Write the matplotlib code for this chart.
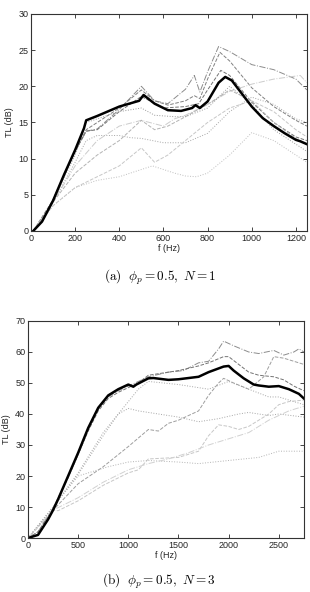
# -*- coding: utf-8 -*-
"""
Transmission loss curves, two panels (N=1 and N=3), MATLAB-style look.
"""

import numpy as np
import matplotlib
matplotlib.use('Agg')
import matplotlib.pyplot as plt

plt.rcParams['font.family'] = ['Liberation Sans', 'DejaVu Sans']
plt.rcParams['mathtext.fontset'] = 'cm'

# ---------------- panel (a): phi_p = 0.5, N = 1 ----------------
fa_black = [10, 50, 100, 150, 200, 240, 250, 300, 400, 490, 510, 560, 620, 680, 730,
            745, 765, 800, 850, 880, 910, 960, 1000, 1050, 1100, 1150, 1200, 1220, 1235, 1250]
tla_black = [0, 1.3, 4.2, 7.8, 11.2, 14.2, 15.3, 15.9, 17.2, 18.0, 18.8, 17.6, 16.7, 16.6, 17.0,
             17.4, 17.0, 17.9, 20.5, 21.3, 20.8, 18.8, 17.2, 15.6, 14.5, 13.5, 12.6, 12.4, 12.2, 12.0]

fa_g1 = [10, 50, 100, 150, 200, 250, 300, 400, 500, 560, 620, 700, 740, 765, 800, 850, 900, 1000, 1100, 1200, 1250]
tla_g1 = [0, 1.4, 4.3, 7.8, 11.0, 13.8, 14.1, 16.8, 20.0, 18.0, 17.6, 19.6, 21.5, 19.2, 22.0, 25.5, 24.8, 23.0, 22.3, 21.0, 19.5]

fa_g2 = [10, 50, 100, 150, 200, 250, 300, 400, 500, 560, 620, 700, 740, 765, 800, 856, 900, 1000, 1100, 1200, 1250]
tla_g2 = [0, 1.4, 4.3, 7.8, 11.0, 14.0, 15.0, 17.0, 19.5, 18.0, 17.4, 18.0, 18.7, 18.3, 21.0, 24.7, 23.5, 19.8, 17.2, 15.3, 14.5]

fa_g3 = [10, 100, 200, 250, 300, 400, 500, 600, 700, 760, 800, 860, 900, 1000, 1100, 1200, 1250]
tla_g3 = [0, 4.3, 11.0, 13.8, 14.0, 16.5, 18.6, 17.0, 17.2, 17.6, 19.5, 22.2, 21.5, 17.8, 15.0, 13.0, 12.5]

fa_g4 = [10, 100, 200, 300, 400, 500, 600, 650, 700, 800, 900, 1000, 1100, 1220, 1250]
tla_g4 = [0, 4.0, 9.0, 12.5, 14.5, 15.3, 14.5, 15.5, 16.0, 17.5, 19.3, 20.3, 21.0, 21.5, 20.5]

fa_g5 = [10, 100, 200, 250, 300, 400, 450, 500, 600, 700, 800, 900, 1000, 1100, 1200, 1250]
tla_g5 = [0, 4.0, 9.5, 12.5, 13.2, 13.2, 12.9, 12.8, 12.2, 12.2, 13.5, 16.5, 18.5, 17.5, 15.5, 15.0]

fa_g6 = [10, 100, 200, 300, 400, 500, 550, 600, 650, 700, 750, 800, 900, 1000, 1100, 1200, 1250]
tla_g6 = [0, 3.5, 6.0, 7.0, 7.5, 8.5, 9.0, 8.5, 8.0, 7.6, 7.5, 8.0, 10.5, 13.6, 12.5, 10.5, 9.5]

fa_g7 = [10, 100, 200, 300, 400, 500, 560, 620, 700, 760, 800, 900, 1000, 1100, 1200, 1250]
tla_g7 = [0, 3.5, 6.0, 7.5, 9.0, 11.5, 9.5, 10.5, 12.5, 14.0, 15.0, 17.0, 18.0, 16.5, 14.0, 13.0]

fa_g8 = [10, 100, 200, 300, 400, 500, 560, 620, 700, 740, 800, 900, 1000, 1100, 1200, 1250]
tla_g8 = [0, 4.0, 8.0, 10.5, 12.5, 15.3, 14.0, 14.5, 15.8, 16.5, 17.5, 19.5, 18.0, 15.0, 12.8, 12.0]

fa_g9 = [10, 100, 200, 250, 300, 400, 500, 560, 650, 700, 800, 900, 1000, 1100, 1200, 1250]
tla_g9 = [0, 4.2, 10.5, 15.0, 15.5, 16.5, 17.0, 16.0, 15.8, 15.8, 17.0, 20.0, 17.5, 14.0, 12.0, 11.0]

# ---------------- panel (b): phi_p = 0.5, N = 3 ----------------
fb_black = [0, 100, 200, 250, 300, 400, 500, 600, 700, 800, 900, 1000, 1050, 1080, 1200, 1250,
            1400, 1500, 1700, 1800, 1950, 2000, 2050, 2150, 2250, 2300, 2400, 2500, 2600, 2700, 2750]
tlb_black = [0, 1.0, 6.0, 9.0, 12.5, 20.0, 27.5, 35.5, 42.0, 46.0, 48.0, 49.5, 48.8, 49.5, 51.5, 51.6,
             51.0, 51.2, 52.0, 53.5, 55.3, 55.5, 54.0, 51.5, 49.5, 49.2, 48.8, 49.0, 48.0, 46.5, 45.0]

fb_g1 = [0, 100, 250, 400, 500, 600, 700, 800, 900, 1000, 1200, 1400, 1550, 1700, 1800, 1900, 1950,
         2050, 2200, 2300, 2450, 2550, 2650, 2700, 2750]
tlb_g1 = [0, 2.0, 9.5, 19.5, 27.0, 35.0, 41.5, 45.5, 47.5, 49.0, 52.0, 53.5, 54.0, 56.5, 57.0, 61.0, 63.5,
          62.0, 60.0, 59.5, 60.5, 59.0, 60.0, 61.0, 60.0]

fb_g2 = [0, 100, 250, 400, 500, 600, 700, 800, 900, 1000, 1100, 1200, 1300, 1500, 1700, 1800, 1950,
         2000, 2100, 2200, 2300, 2450, 2550, 2650, 2750]
tlb_g2 = [0, 2.0, 9.5, 19.5, 27.0, 34.5, 41.0, 45.0, 47.0, 48.5, 50.0, 52.5, 53.0, 54.0, 55.5, 56.5, 58.5,
          58.5, 56.0, 53.5, 52.5, 52.0, 51.0, 49.0, 47.5]

fb_g3 = [0, 250, 500, 750, 900, 1000, 1100, 1200, 1500, 1800, 2000, 2200, 2400, 2500, 2600, 2750]
tlb_g3 = [0, 10.0, 20.5, 33.0, 40.0, 44.0, 48.0, 50.5, 49.5, 48.0, 50.5, 48.0, 45.5, 45.5, 44.5, 43.0]

fb_g4 = [0, 250, 500, 750, 900, 1000, 1100, 1300, 1500, 1700, 1900, 2100, 2200, 2400, 2500, 2750]
tlb_g4 = [0, 10.0, 21.0, 34.0, 40.0, 41.8, 41.0, 40.0, 39.0, 37.5, 38.5, 40.0, 40.5, 39.5, 40.0, 39.0]

fb_g5 = [0, 250, 500, 750, 1000, 1200, 1300, 1400, 1500, 1700, 1800, 1900, 1950, 2050, 2200, 2350,
         2450, 2550, 2650, 2750]
tlb_g5 = [0, 9.0, 17.5, 23.0, 29.5, 35.0, 34.5, 37.0, 38.0, 41.0, 46.0, 50.0, 51.5, 50.0, 48.0, 52.0,
          58.5, 58.0, 57.0, 56.0]

fb_g6 = [0, 250, 300, 500, 750, 1000, 1100, 1200, 1500, 1700, 1800, 1900, 2000, 2100, 2200, 2400,
         2500, 2600, 2750]
tlb_g6 = [0, 9.0, 8.8, 12.0, 17.0, 21.0, 22.0, 25.5, 26.0, 28.0, 33.0, 36.5, 36.0, 35.0, 36.0, 40.0,
          43.0, 44.0, 44.5]

fb_g7 = [0, 250, 500, 800, 1000, 1200, 1500, 1700, 2000, 2300, 2500, 2750]
tlb_g7 = [0, 10.0, 20.0, 23.0, 24.5, 25.0, 24.5, 24.0, 25.0, 26.0, 28.0, 28.0]

fb_g8 = [0, 250, 500, 750, 1000, 1200, 1400, 1600, 1800, 2000, 2200, 2400, 2600, 2750]
tlb_g8 = [0, 9.0, 13.0, 18.0, 22.0, 24.0, 25.5, 27.5, 30.0, 32.0, 34.0, 38.0, 41.0, 42.5]

# (x, y, linestyle, gray level) for the thin curves
grey_a = [
    (fa_g1, tla_g1, '-.', '0.55'),
    (fa_g2, tla_g2, '--', '0.50'),
    (fa_g3, tla_g3, '--', '0.45'),
    (fa_g4, tla_g4, '-.', '0.80'),
    (fa_g5, tla_g5, ':', '0.65'),
    (fa_g6, tla_g6, ':', '0.75'),
    (fa_g7, tla_g7, '--', '0.78'),
    (fa_g8, tla_g8, '--', '0.70'),
    (fa_g9, tla_g9, ':', '0.60'),
]
grey_b = [
    (fb_g1, tlb_g1, '-.', '0.55'),
    (fb_g2, tlb_g2, '--', '0.45'),
    (fb_g3, tlb_g3, ':', '0.65'),
    (fb_g4, tlb_g4, ':', '0.65'),
    (fb_g5, tlb_g5, '--', '0.62'),
    (fb_g6, tlb_g6, '--', '0.78'),
    (fb_g7, tlb_g7, ':', '0.70'),
    (fb_g8, tlb_g8, '-.', '0.82'),
]

fig = plt.figure(figsize=(3.10, 5.92), dpi=100)
ax1 = fig.add_axes([0.100, 0.6098, 0.890, 0.3666])
ax2 = fig.add_axes([0.0903, 0.0912, 0.890, 0.3666])


def style(ax, xmax, ymax, xticks, yticks):
    ax.set_xlim(0, xmax)
    ax.set_ylim(0, ymax)
    ax.set_xticks(xticks)
    ax.set_yticks(yticks)
    ax.tick_params(direction='in', top=True, right=True, labelsize=6.5,
                   length=3, width=0.6, pad=2, colors='0.15')
    for s in ax.spines.values():
        s.set_linewidth(0.8)
        s.set_color('0.2')
    ax.set_xlabel('f (Hz)', fontsize=6.5, labelpad=1, color='0.15')
    ax.set_ylabel('TL (dB)', fontsize=6.5, labelpad=3, color='0.15')


for x, y, ls, c in grey_a:
    ax1.plot(x, y, linestyle=ls, color=c, linewidth=0.7)
ax1.plot(fa_black, tla_black, color='black', linewidth=1.8)
style(ax1, 1250, 30, [0, 200, 400, 600, 800, 1000, 1200], [0, 5, 10, 15, 20, 25, 30])

for x, y, ls, c in grey_b:
    ax2.plot(x, y, linestyle=ls, color=c, linewidth=0.7)
ax2.plot(fb_black, tlb_black, color='black', linewidth=1.8)
style(ax2, 2750, 70, [0, 500, 1000, 1500, 2000, 2500], [0, 10, 20, 30, 40, 50, 60, 70])

fig.text(0.516, 1 - 277 / 592, r'$\mathrm{(a)}\ \ \phi_p = 0.5,\ N = 1$', fontsize=9.5,
         ha='center', va='center')
fig.text(0.513, 1 - 581 / 592, r'$\mathrm{(b)}\ \ \phi_p = 0.5,\ N = 3$', fontsize=9.5,
         ha='center', va='center')

fig.savefig('out.png', dpi=100)
